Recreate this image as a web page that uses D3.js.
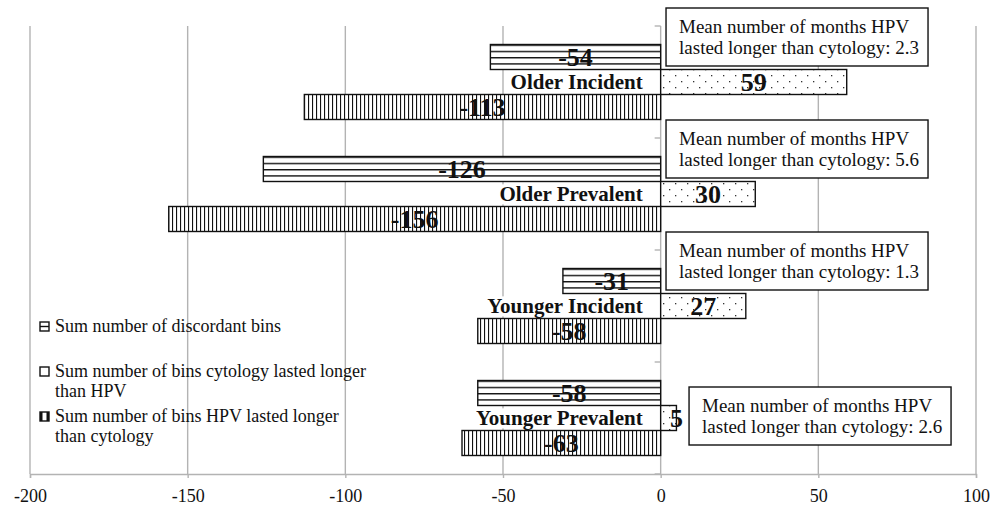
<!DOCTYPE html>
<html><head><meta charset="utf-8">
<script src="https://cdn.jsdelivr.net/npm/d3@7"></script>
<style>body{margin:0;background:#fff} svg{display:block;font-family:"Liberation Serif","Times New Roman",serif}</style>
</head><body><svg id="chart" width="993" height="507"></svg>
<script>
// ---- data ----
const categories = ["Older Incident", "Older Prevalent", "Younger Incident", "Younger Prevalent"];
const seriesKeys = ["discordant", "cytology", "hpv"];
const seriesNames = [
  ["Sum number of discordant bins"],
  ["Sum number of bins cytology lasted longer", "than HPV"],
  ["Sum number of bins HPV lasted longer", "than cytology"]
];
const discordant = [-54, -126, -31, -58];
const cytologyLonger = [59, 30, 27, 5];
const hpvLonger = [-113, -156, -58, -63];
const meanMonths = [2.3, 5.6, 1.3, 2.6];
const xTicks = [-200, -150, -100, -50, 0, 50, 100];

const seriesValues = { discordant: discordant, cytology: cytologyLonger, hpv: hpvLonger };
const rows = [];
categories.forEach((c, i) => seriesKeys.forEach(k => rows.push({ cat: c, key: k, value: seriesValues[k][i] })));

// ---- layout ----
const svg = d3.select("#chart");
const pLeft = 30, pRight = 976, pTop = 26, pBottom = 474;
const grid = "#b3b3b3";

const x = d3.scaleLinear().domain([-200, 100]).range([pLeft, pRight]);
const y0 = d3.scaleBand().domain(categories).range([pTop, pBottom]);
const y1 = d3.scaleBand().domain(seriesKeys).range([0, y0.bandwidth()]).paddingInner(0).paddingOuter(0.74);

// ---- patterns ----
const defs = svg.append("defs");
const ph = defs.append("pattern").attr("id", "p-discordant")
  .attr("patternUnits", "objectBoundingBox").attr("patternContentUnits", "userSpaceOnUse")
  .attr("x", 0).attr("y", 0).attr("width", 1).attr("height", 0.25);
ph.append("rect").attr("width", 2000).attr("height", 50).attr("fill", "#fff");
ph.append("rect").attr("x", 0).attr("y", 0).attr("width", 2000).attr("height", 1.4).attr("fill", "#111");

const pv = defs.append("pattern").attr("id", "p-hpv")
  .attr("patternUnits", "userSpaceOnUse").attr("x", 0).attr("y", 0).attr("width", 4).attr("height", 10);
pv.append("rect").attr("width", 4).attr("height", 10).attr("fill", "#fff");
pv.append("rect").attr("x", 0).attr("y", 0).attr("width", 1.1).attr("height", 10).attr("fill", "#111");

const pd = defs.append("pattern").attr("id", "p-cytology")
  .attr("patternUnits", "userSpaceOnUse").attr("x", 0).attr("y", 0).attr("width", 12).attr("height", 12);
pd.append("rect").attr("width", 12).attr("height", 12).attr("fill", "#fff");
pd.append("rect").attr("x", 3).attr("y", 3).attr("width", 1.3).attr("height", 1.3).attr("fill", "#333");
pd.append("rect").attr("x", 9).attr("y", 9).attr("width", 1.3).attr("height", 1.3).attr("fill", "#333");

// ---- gridlines ----
svg.append("g").selectAll("line").data(xTicks).join("line")
  .attr("x1", d => x(d)).attr("x2", d => x(d))
  .attr("y1", pTop).attr("y2", pBottom)
  .attr("stroke", grid).attr("stroke-width", 1.4);

// ---- x axis ----
const xAxis = svg.append("g").attr("transform", `translate(0,${pBottom})`)
  .call(d3.axisBottom(x).tickValues(xTicks).tickSize(4).tickSizeOuter(4).tickPadding(11).tickFormat(d => String(d)));
xAxis.select(".domain").attr("stroke", grid).attr("stroke-width", 1.4);
xAxis.selectAll(".tick line").attr("stroke", grid).attr("stroke-width", 1.4);
xAxis.selectAll(".tick text").attr("font-family", "Liberation Serif").attr("font-size", 18).attr("fill", "#111");

// ---- y axis ticks at category boundaries ----
const bounds = categories.map(c => y0(c)).concat([pBottom]);
svg.append("g").selectAll("line").data(bounds).join("line")
  .attr("x1", x(0) - 6).attr("x2", x(0)).attr("y1", d => d).attr("y2", d => d)
  .attr("stroke", grid).attr("stroke-width", 1.4);

// ---- bars ----
svg.append("g").selectAll("rect").data(rows).join("rect")
  .attr("x", d => x(Math.min(0, d.value)))
  .attr("width", d => Math.abs(x(d.value) - x(0)))
  .attr("y", d => y0(d.cat) + y1(d.key))
  .attr("height", y1.bandwidth())
  .attr("fill", d => `url(#p-${d.key})`)
  .attr("stroke", "#111").attr("stroke-width", 1.4);

// ---- category labels (white background) ----
const catG = svg.append("g");
categories.forEach(c => {
  const t = catG.append("text")
    .attr("x", x(0) - 18).attr("y", y0(c) + y0.bandwidth() / 2).attr("dy", "0.35em")
    .attr("text-anchor", "end").attr("font-weight", "bold").attr("font-size", 21).attr("fill", "#111")
    .text(c);
  const b = t.node().getBBox();
  catG.insert("rect", "text").attr("x", b.x - 2).attr("y", b.y + 2).attr("width", b.width + 4).attr("height", b.height - 4).attr("fill", "#fff");
});

// ---- value labels ----
svg.append("g").selectAll("text").data(rows).join("text")
  .attr("y", d => y0(d.cat) + y1(d.key) + y1.bandwidth() / 2).attr("dy", "0.35em")
  .attr("text-anchor", "middle").attr("font-weight", "bold").attr("font-size", 26).attr("fill", "#111")
  .text(d => String(d.value))
  .each(function (d) {
    const w = this.getComputedTextLength();
    const bw = Math.abs(x(d.value) - x(0));
    const cx = (w + 6 > bw) ? x(d.value) : (x(d.value) + x(0)) / 2;
    d3.select(this).attr("x", cx);
  });

// ---- annotation boxes ----
const annG = svg.append("g");
meanMonths.forEach((m, i) => {
  const last = i === categories.length - 1;
  const bx = last ? x(9) : x(1.7);
  const by = y0(categories[i]) + (last ? 25 : -18);
  const g = annG.append("g").attr("transform", `translate(${bx},${by})`);
  g.append("rect").attr("width", 262).attr("height", 58).attr("fill", "#fff").attr("stroke", "#111").attr("stroke-width", 1.4);
  g.append("text").attr("x", 13).attr("y", 25).attr("font-size", 19).attr("fill", "#111").text("Mean number of months HPV");
  g.append("text").attr("x", 13).attr("y", 46).attr("font-size", 19).attr("fill", "#111").text("lasted longer than cytology: " + m);
});

// ---- legend ----
const legY = [322, 367, 412];
const leg = svg.append("g");
seriesKeys.forEach((k, i) => {
  const g = leg.append("g").attr("transform", `translate(40,${legY[i]})`);
  g.append("rect").attr("width", 9).attr("height", 9).attr("fill", "#fff").attr("stroke", "#111").attr("stroke-width", 1.4);
  if (k === "discordant") g.append("line").attr("x1", 0).attr("x2", 9).attr("y1", 4.5).attr("y2", 4.5).attr("stroke", "#111").attr("stroke-width", 1.4);
  if (k === "hpv") {
    g.append("rect").attr("x", 0).attr("y", 0).attr("width", 2.5).attr("height", 9).attr("fill", "#111");
    g.append("rect").attr("x", 6.5).attr("y", 0).attr("width", 2.5).attr("height", 9).attr("fill", "#111");
  }
  seriesNames[i].forEach((line, j) => {
    g.append("text").attr("x", 15).attr("y", 10 + j * 20).attr("font-size", 18).attr("fill", "#111").text(line);
  });
});
</script>
</body></html>
